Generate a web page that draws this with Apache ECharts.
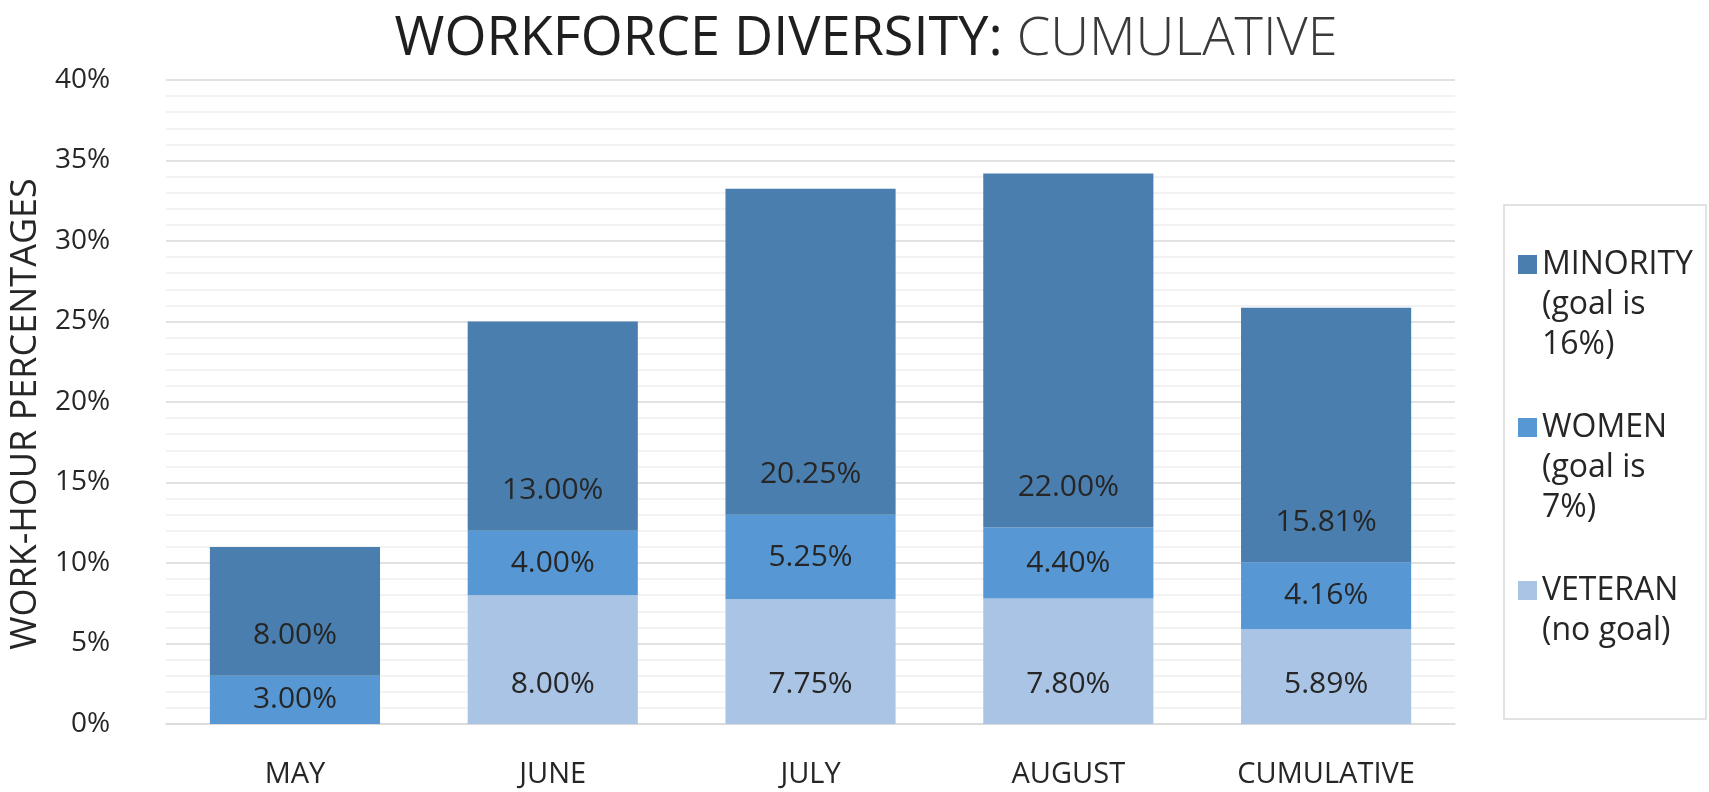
<!DOCTYPE html>
<html>
<head>
<meta charset="utf-8">
<title>Workforce Diversity</title>
<script src="https://cdn.jsdelivr.net/npm/echarts@6/dist/echarts.min.js"></script>
<style>
	html, body { margin: 0; padding: 0; background: #fff; }
	#chart { width: 1709px; height: 792px; }
</style>
</head>
<body>
<div id="chart"></div>
<script>
	var months = ['MAY', 'JUNE', 'JULY', 'AUGUST', 'CUMULATIVE'];
	var veteran = [null, 8.00, 7.75, 7.80, 5.89];
	var women = [3.00, 4.00, 5.25, 4.40, 4.16];
	var minority = [8.00, 13.00, 20.25, 22.00, 15.81];
	// every legend entry gets three lines so the items space evenly
	var legendNames = ['MINORITY\n(goal is\n16%)', 'WOMEN\n(goal is\n7%)', 'VETERAN\n(no goal)\n '];

	var FONT = '"Open Sans", sans-serif';
	var TXT = '#262626';

	// legend square sits on the first text line
	var icon = 'path://M0,0L0,120M0,10L19,10L19,29L0,29Z';

	function pct(p) {
		return p.value == null ? '' : p.value.toFixed(2) + '%';
	}

	var myChart = echarts.init(document.getElementById('chart'));

	var option = {
		backgroundColor: '#fff',
		animation: false,
		textStyle: { fontFamily: FONT },
		title: {
			text: '{a|WORKFORCE DIVERSITY: }{b|CUMULATIVE}',
			left: 861,
			top: 8,
			textAlign: 'center',
			textStyle: {
				fontWeight: 'normal',
				rich: {
					a: { fontFamily: FONT, fontSize: 54, color: '#1f1f1f', fontWeight: 'normal' },
					b: { fontFamily: FONT, fontSize: 54, color: '#3a3a3a', fontWeight: 300 }
				}
			}
		},
		graphic: [{
			type: 'rect',
			shape: { x: 1504, y: 205, width: 202, height: 514 },
			style: { fill: 'none', stroke: '#d9d9d9', lineWidth: 1.5 }
		}],
		legend: {
			orient: 'vertical',
			left: 1518,
			top: 245,
			padding: 0,
			itemGap: 43,
			itemWidth: 19,
			itemHeight: 120,
			icon: icon,
			data: legendNames,
			textStyle: { fontFamily: FONT, fontSize: 32, lineHeight: 40, color: TXT }
		},
		grid: {
			left: 161,
			right: 254,
			top: 80,
			bottom: 68
		},
		xAxis: {
			type: 'category',
			data: months,
			axisLine: { lineStyle: { color: '#d9d9d9', width: 1.5 } },
			axisTick: { show: false },
			axisLabel: { color: TXT, fontSize: 29, fontFamily: FONT, margin: 36 }
		},
		yAxis: {
			type: 'value',
			min: 0,
			max: 40,
			interval: 5,
			name: 'WORK-HOUR PERCENTAGES',
			nameLocation: 'middle',
			nameGap: 112,
			nameTextStyle: { color: TXT, fontSize: 36, fontFamily: FONT, padding: [0, 24, 0, 0] },
			axisLabel: { color: TXT, fontSize: 28, fontFamily: FONT, margin: 56, formatter: '{value}%' },
			axisLine: { show: false },
			axisTick: { show: false },
			splitLine: { lineStyle: { color: '#d9d9d9', width: 1.5 } },
			minorTick: { show: false, splitNumber: 5 },
			minorSplitLine: { show: true, lineStyle: { color: '#eeeeee', width: 1.5 } }
		},
		series: [
			{
				name: legendNames[2],
				type: 'bar',
				stack: 'total',
				barWidth: '66%',
				itemStyle: { color: '#aac4e5' },
				label: { show: true, position: 'insideBottom', distance: 25, color: TXT, fontSize: 30, fontFamily: FONT, formatter: pct },
				data: veteran
			},
			{
				name: legendNames[1],
				type: 'bar',
				stack: 'total',
				itemStyle: { color: '#5798d4' },
				label: { show: true, position: 'inside', color: TXT, fontSize: 30, fontFamily: FONT, formatter: pct },
				data: women
			},
			{
				name: legendNames[0],
				type: 'bar',
				stack: 'total',
				itemStyle: { color: '#4a7eae' },
				label: { show: true, position: 'insideBottom', distance: 25, color: TXT, fontSize: 30, fontFamily: FONT, formatter: pct },
				data: minority
			}
		]
	};
	myChart.setOption(option);
</script>
</body>
</html>
